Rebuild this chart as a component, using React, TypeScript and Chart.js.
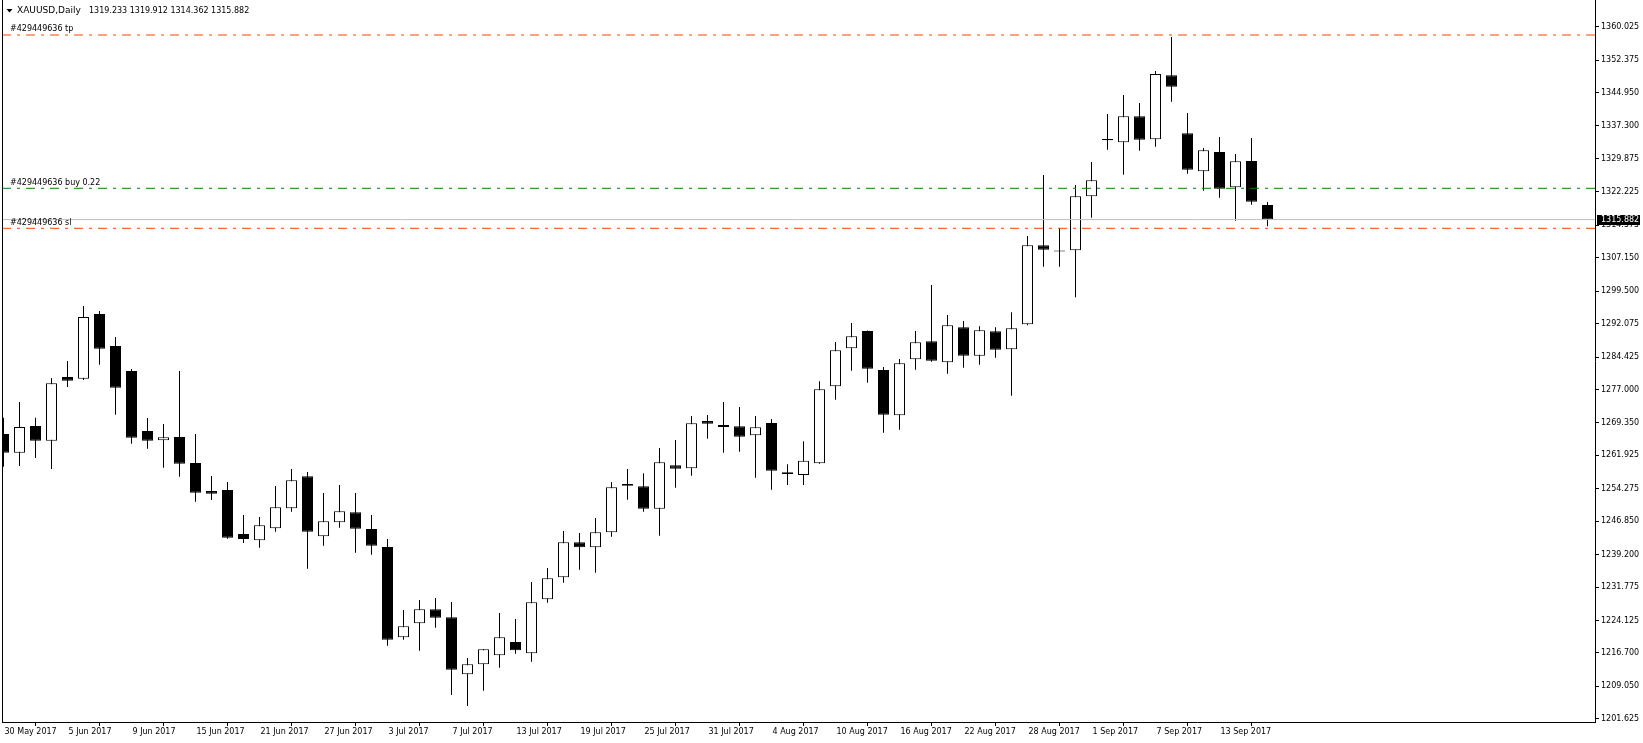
import React, { useEffect, useRef } from 'react';
import { Chart, registerables } from 'chart.js';

Chart.register(...registerables);

// ---- Data ----
const symbolTitle = 'XAUUSD,Daily';

const opens = [
  1266.80, 1262.53, 1268.63, 1265.28, 1279.85, 1279.47, 1294.27, 1286.94, 1281.22, 1267.49,
  1265.35, 1266.12, 1260.17, 1253.76, 1253.99, 1243.91, 1242.47, 1245.21, 1249.79, 1257.11,
  1243.38, 1246.58, 1248.87, 1245.06, 1240.94, 1220.27, 1223.47, 1226.68, 1224.84, 1211.80,
  1214.09, 1216.15, 1219.20, 1216.61, 1228.97, 1234.00, 1242.01, 1240.86, 1244.30, 1255.36,
  1254.83, 1249.71, 1259.63, 1258.94, 1269.78, 1268.86, 1268.56, 1266.50, 1269.32, 1258.05,
  1257.42, 1260.09, 1277.71, 1286.41, 1290.38, 1281.45, 1271.08, 1283.89, 1288.01, 1283.21,
  1291.22, 1284.73, 1290.30, 1286.18, 1291.90, 1309.99, 1308.55, 1308.84, 1321.20, 1334.32,
  1333.56, 1339.51, 1334.25, 1348.89, 1335.62, 1326.92, 1331.35, 1323.26, 1329.29, 1319.233,
];
const highs = [
  1270.54, 1274.13, 1270.54, 1279.62, 1283.51, 1296.10, 1294.95, 1289.00, 1281.68, 1270.47,
  1269.09, 1281.22, 1266.80, 1257.19, 1255.82, 1248.26, 1247.81, 1254.90, 1258.79, 1258.10,
  1253.30, 1255.13, 1253.30, 1248.26, 1242.77, 1226.52, 1228.81, 1229.27, 1228.36, 1215.54,
  1217.60, 1225.84, 1224.46, 1232.93, 1236.13, 1244.60, 1244.15, 1247.58, 1255.82, 1258.79,
  1257.80, 1263.60, 1265.43, 1270.92, 1271.15, 1274.12, 1272.98, 1270.92, 1270.23, 1259.86,
  1265.12, 1278.86, 1287.86, 1292.21, 1290.50, 1282.14, 1283.97, 1290.38, 1300.91, 1294.04,
  1292.67, 1291.45, 1291.22, 1294.65, 1312.12, 1326.08, 1313.95, 1323.80, 1329.06, 1340.04,
  1344.39, 1342.56, 1349.89, 1357.67, 1340.27, 1332.26, 1334.78, 1330.89, 1334.55, 1319.912,
];
const lows = [
  1259.33, 1259.48, 1261.31, 1258.79, 1277.56, 1279.16, 1282.67, 1271.23, 1264.59, 1263.45,
  1259.10, 1257.04, 1251.32, 1251.70, 1242.85, 1241.85, 1240.79, 1244.45, 1249.03, 1235.98,
  1241.25, 1245.37, 1239.64, 1239.18, 1218.36, 1219.73, 1217.22, 1222.48, 1207.07, 1204.55,
  1208.06, 1213.32, 1216.53, 1214.70, 1228.20, 1232.78, 1235.75, 1235.07, 1243.31, 1251.77,
  1249.03, 1243.53, 1254.52, 1257.27, 1265.73, 1262.53, 1262.76, 1256.81, 1254.06, 1255.13,
  1255.13, 1260.00, 1274.66, 1281.30, 1278.55, 1267.11, 1267.80, 1281.53, 1283.36, 1280.61,
  1281.99, 1282.67, 1284.27, 1275.58, 1291.70, 1305.11, 1305.11, 1298.09, 1316.32, 1331.88,
  1326.16, 1331.65, 1332.57, 1342.87, 1326.39, 1322.50, 1320.89, 1315.63, 1319.29, 1314.362,
];
const closes = [
  1262.53, 1268.41, 1265.28, 1278.40, 1279.01, 1293.58, 1286.33, 1277.41, 1265.96, 1265.28,
  1266.04, 1260.01, 1253.38, 1253.15, 1243.08, 1242.77, 1245.90, 1250.02, 1256.20, 1244.45,
  1246.81, 1249.10, 1245.13, 1241.25, 1219.73, 1222.79, 1226.68, 1224.77, 1212.87, 1214.09,
  1217.52, 1220.27, 1217.29, 1228.28, 1233.77, 1242.01, 1240.86, 1244.30, 1254.60, 1254.98,
  1249.71, 1260.32, 1258.87, 1269.24, 1269.17, 1268.40, 1266.19, 1268.33, 1258.41, 1257.65,
  1260.70, 1277.03, 1285.95, 1289.16, 1281.75, 1271.23, 1282.98, 1287.78, 1283.59, 1291.67,
  1284.73, 1290.53, 1286.11, 1290.99, 1309.98, 1309.00, 1308.65, 1321.20, 1324.86, 1334.02,
  1339.51, 1334.17, 1349.20, 1346.30, 1327.30, 1331.73, 1322.95, 1329.21, 1319.98, 1315.882,
];

const xTickLabels = [
  '30 May 2017', '5 Jun 2017', '9 Jun 2017', '15 Jun 2017', '21 Jun 2017', '27 Jun 2017',
  '3 Jul 2017', '7 Jul 2017', '13 Jul 2017', '19 Jul 2017', '25 Jul 2017', '31 Jul 2017',
  '4 Aug 2017', '10 Aug 2017', '16 Aug 2017', '22 Aug 2017', '28 Aug 2017', '1 Sep 2017',
  '7 Sep 2017', '13 Sep 2017',
];
const xTickBars = [0, 4, 8, 12, 16, 20, 24, 28, 32, 36, 40, 44, 48, 52, 56, 60, 64, 68, 72, 76];

const yTickValues = [
  1360.025, 1352.375, 1344.950, 1337.300, 1329.875, 1322.225, 1314.575, 1307.150, 1299.500,
  1292.075, 1284.425, 1277.000, 1269.350, 1261.925, 1254.275, 1246.850, 1239.200, 1231.775,
  1224.125, 1216.700, 1209.050, 1201.625,
];

const orderLevels = [
  { label: '#429449636 tp', price: 1358.12, color: '#FF4500' },
  { label: '#429449636 buy 0.22', price: 1323.04, color: '#008000' },
  { label: '#429449636 sl', price: 1313.88, color: '#FF4500' },
];
const bidPrice = 1315.882;

// ---- View window ----
const X_MIN = -0.09375;
const X_MAX = 99.46875;
const Y_MIN = 1200.885;
const Y_MAX = 1366.136;

const FONT = '"DejaVu Sans", Verdana, sans-serif';

const overlayPlugin = {
  id: 'mtOverlay',
  afterDraw(chart: any) {
    const { ctx, chartArea } = chart;
    const y = chart.scales.y;
    ctx.save();
    // left frame line
    ctx.strokeStyle = '#000';
    ctx.lineWidth = 1;
    ctx.beginPath();
    ctx.moveTo(2.5, 0);
    ctx.lineTo(2.5, chartArea.bottom);
    ctx.stroke();

    // header
    ctx.fillStyle = '#000';
    ctx.beginPath();
    ctx.moveTo(6.5, 9);
    ctx.lineTo(12.5, 9);
    ctx.lineTo(9.5, 12.5);
    ctx.closePath();
    ctx.fill();
    ctx.textBaseline = 'middle';
    ctx.textAlign = 'left';
    ctx.font = '9px ' + FONT;
    ctx.fillText(symbolTitle, 17, 11);
    ctx.font = '8px ' + FONT;
    const last = opens.length - 1;
    const hdr = [opens[last], highs[last], lows[last], closes[last]];
    hdr.forEach((v, k) => ctx.fillText(v.toFixed(3), 89 + 40.7 * k, 11));

    // order level labels
    orderLevels.forEach((lv) => {
      const py = y.getPixelForValue(lv.price);
      ctx.fillStyle = '#000';
      ctx.fillText(lv.label, 10, py - 5.7);
    });

    // bid price box on the axis
    const by = y.getPixelForValue(bidPrice);
    ctx.fillStyle = '#000';
    ctx.fillRect(1597, Math.round(by) - 5, 43, 10);
    ctx.fillStyle = '#fff';
    ctx.fillText(bidPrice.toFixed(3), 1601, Math.round(by));
    ctx.restore();
  },
};

export default function App() {
  const canvasRef = useRef<HTMLCanvasElement | null>(null);

  useEffect(() => {
    if (!canvasRef.current) return;
    const bodyData = opens.map((o, i) => ({ x: i, y: [o, closes[i]] }));
    const wickData = lows.map((l, i) => ({ x: i, y: [l, highs[i]] }));
    const bodyColors = opens.map((o, i) => (closes[i] < o ? '#000000' : '#ffffff'));

    const levelSets = orderLevels.map((lv) => ({
      type: 'line' as const,
      label: lv.label,
      data: [
        { x: X_MIN, y: lv.price },
        { x: X_MAX, y: lv.price },
      ],
      borderColor: lv.color,
      borderWidth: 1,
      borderDash: [9, 6, 3, 6],
      pointRadius: 0,
      fill: false,
      order: 0,
    }));

    const chart = new Chart(canvasRef.current, {
      type: 'bar',
      data: {
        datasets: [
          ...levelSets,
          {
            type: 'line' as const,
            label: 'bid',
            data: [
              { x: X_MIN, y: bidPrice },
              { x: X_MAX, y: bidPrice },
            ],
            borderColor: '#C0C0C0',
            borderWidth: 1,
            pointRadius: 0,
            fill: false,
            order: 0,
          } as any,
          {
            type: 'bar' as const,
            label: 'body',
            data: bodyData as any,
            backgroundColor: bodyColors,
            borderColor: '#000',
            borderWidth: 1,
            borderSkipped: false,
            barThickness: 11,
            grouped: false,
            minBarLength: 1,
            inflateAmount: 0,
            order: 1,
          } as any,
          {
            type: 'bar' as const,
            label: 'wick',
            data: wickData as any,
            backgroundColor: '#000',
            borderWidth: 0,
            barThickness: 1,
            grouped: false,
            inflateAmount: 0,
            order: 2,
          } as any,
        ],
      },
      options: {
        animation: false,
        responsive: true,
        maintainAspectRatio: false,
        devicePixelRatio: 1,
        layout: { autoPadding: false, padding: { left: 2, top: 0, right: 0, bottom: 0 } } as any,
        plugins: { legend: { display: false }, tooltip: { enabled: false } },
        events: [],
        scales: {
          x: {
            type: 'linear',
            min: X_MIN,
            max: X_MAX,
            offset: false,
            bounds: 'data',
            afterBuildTicks: (s: any) => {
              s.ticks = xTickBars.map((v) => ({ value: v }));
            },
            afterFit: (s: any) => {
              s.height = 21;
              s.paddingLeft = 0;
              s.paddingRight = 0;
            },
            grid: { drawOnChartArea: false, drawTicks: true, tickLength: 4, color: '#000' },
            border: { display: true, color: '#000', width: 1 },
            ticks: {
              align: 'start',
              labelOffset: 1,
              padding: 1,
              maxRotation: 0,
              autoSkip: false,
              color: '#000',
              font: { family: FONT, size: 8 },
              callback: (_v: any, i: number) => xTickLabels[i],
            },
          } as any,
          y: {
            type: 'linear',
            position: 'right',
            min: Y_MIN,
            max: Y_MAX,
            bounds: 'data',
            afterBuildTicks: (s: any) => {
              s.ticks = yTickValues.map((v) => ({ value: v }));
            },
            afterFit: (s: any) => {
              s.width = 48;
              s.paddingTop = 0;
              s.paddingBottom = 0;
            },
            grid: { drawOnChartArea: false, drawTicks: true, tickLength: 4, color: '#000' },
            border: { display: true, color: '#000', width: 1 },
            ticks: {
              padding: 2,
              color: '#000',
              autoSkip: false,
              font: { family: FONT, size: 8 },
              callback: (v: any) => Number(v).toFixed(3),
            },
          } as any,
        },
      },
      plugins: [overlayPlugin],
    });
    return () => chart.destroy();
  }, []);

  return (
    <div
      style={{
        position: 'absolute',
        left: 0,
        top: 0,
        width: 1643,
        height: 743,
        background: '#ffffff',
      }}
    >
      <canvas ref={canvasRef} style={{ display: 'block' }} />
    </div>
  );
}
